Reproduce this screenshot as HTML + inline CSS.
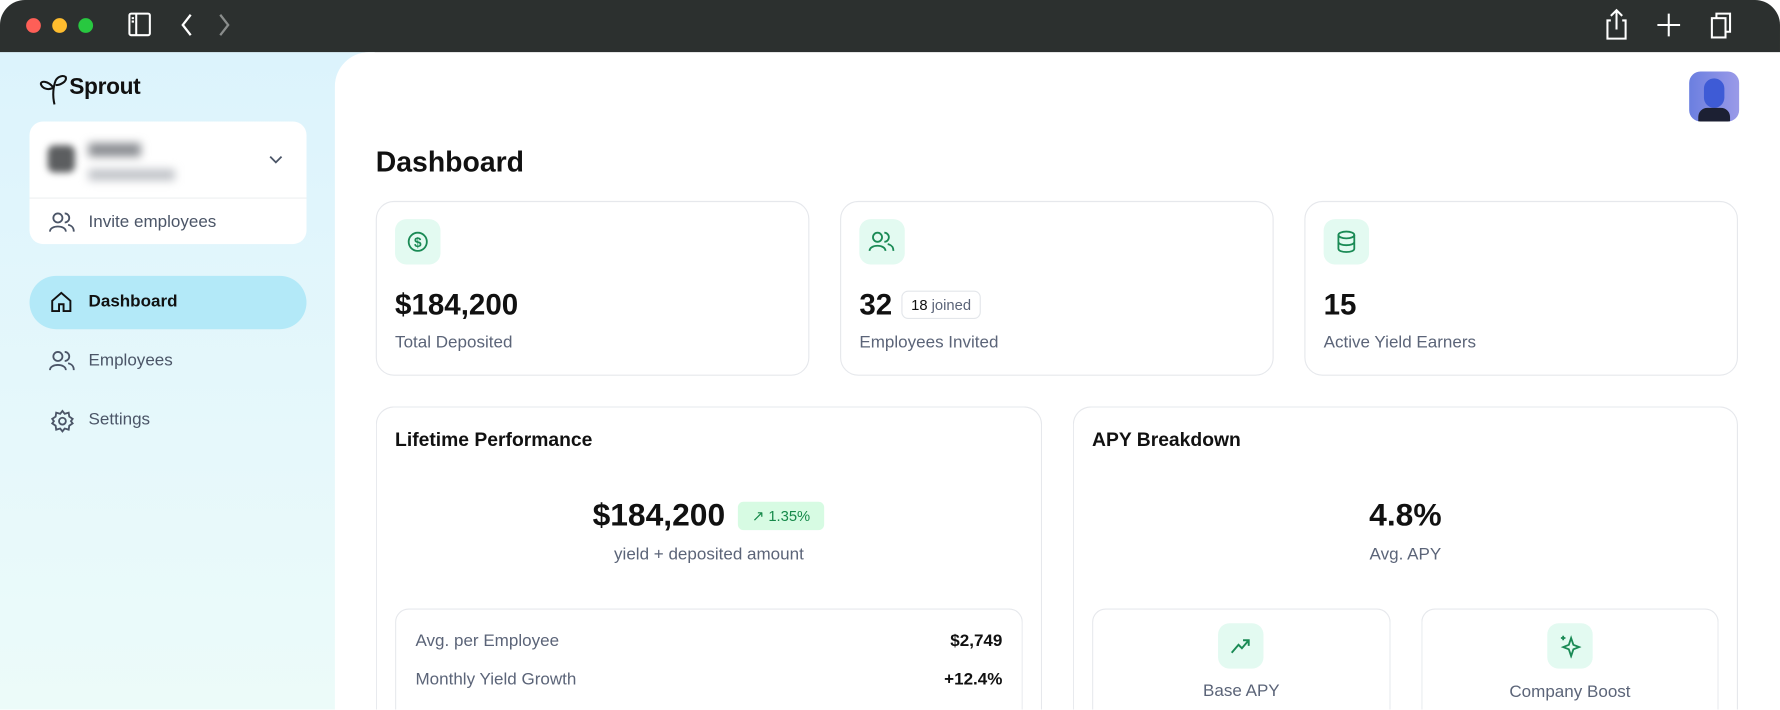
<!DOCTYPE html>
<html><head><meta charset="utf-8"><style>
*{margin:0;padding:0;box-sizing:border-box}
html,body{width:1780px;height:710px;overflow:hidden;background:#fff;font-family:"Liberation Sans",sans-serif}
#w{width:1568px;height:625px;overflow:hidden;transform:scale(1.13520);transform-origin:0 0;position:relative;background:#fff}
.a{position:absolute}
.top{left:0;top:0;width:1568px;height:46px;background:#2c302f;border-radius:22px 22px 0 0}
.dot{width:13px;height:13px;border-radius:50%;top:16px}
.side{left:0;top:46px;width:330px;height:579px;background:linear-gradient(180deg,#dcf3fc 0%,#e6f8fb 60%,#ecfbf9 100%)}
.main{left:295px;top:46px;width:1273px;height:579px;background:#fff;border-radius:30px 0 0 0}
.card{background:#fff;border:1px solid #e6e8ec;border-radius:16px}
.open{border-bottom:none;border-bottom-left-radius:0;border-bottom-right-radius:0}
.ib{width:40px;height:40px;border-radius:10px;background:#e3faf1;display:flex;align-items:center;justify-content:center}
.val{font-size:26px;font-weight:600;color:#111}
.lbl{font-size:15px;color:#5b6478}
.nav{font-size:15px;color:#4b5567}
</style></head><body><div id="w">
<div class="a top"></div>
<div class="a dot" style="left:23px;background:#fe5f57"></div>
<div class="a dot" style="left:46px;background:#febc2e"></div>
<div class="a dot" style="left:69px;background:#28c840"></div>
<svg class="a" style="left:112px;top:10px" width="22" height="24" fill="none" stroke="#fff" stroke-width="1.8"><rect x="2" y="2" width="18" height="19" rx="1.5"/><line x1="8" y1="2" x2="8" y2="21"/><line x1="4" y1="6" x2="6" y2="6"/><line x1="4" y1="9" x2="6" y2="9"/></svg>
<svg class="a" style="left:155px;top:10px" width="60" height="24" fill="none" stroke-width="2"><path d="M13 3 L6 12 L13 21" stroke="#fff"/><path d="M39 3 L46 12 L39 21" stroke="#8a8d8c"/></svg>
<svg class="a" style="left:1412px;top:6px" width="120" height="30" fill="none" stroke="#fff" stroke-width="1.8"><path d="M7 12 H4 V28 H20 V12 H17 M12 20 V3 M7 8 L12 3 L17 8"/><path d="M58 6 V26 M48 16 H68"/><rect x="96" y="10" width="12" height="17"/><path d="M100 10 V6 H112 V22 H108"/></svg>
<div class="a side"></div>
<div class="a main"></div>
<svg class="a" style="left:33px;top:64px" width="28" height="30" fill="none" stroke="#111" stroke-width="1.8"><path d="M15 28 C13 20 14 12 16 7 C18 3 23 2 25 4 C26 8 20 11 16 11 M14 13 C10 16 4 14 3 10 C3 7 9 7 14 13"/></svg>
<div class="a" style="left:61px;top:66px;font-size:20px;font-weight:700;color:#111;letter-spacing:-.3px">Sprout</div>
<div class="a" style="left:26px;top:107px;width:244px;height:108px;background:#fff;border-radius:12px"></div>
<div class="a" style="left:26px;top:174px;width:244px;height:1px;background:#eef0f2"></div>
<div class="a" style="left:42px;top:128px;width:24px;height:24px;border-radius:6px;background:#5c5e60;filter:blur(3px)"></div>
<div class="a" style="left:78px;top:126px;width:46px;height:12px;background:#8a8d92;filter:blur(4px)"></div>
<div class="a" style="left:78px;top:149px;width:76px;height:10px;background:#c0c3c8;filter:blur(4px)"></div>
<svg class="a" style="left:236px;top:136px" width="14" height="10" fill="none" stroke="#4b5567" stroke-width="1.6"><path d="M2 2 L7 7 L12 2"/></svg>
<svg class="a" style="left:43px;top:186px" width="24" height="20" fill="none" stroke="#4b5567" stroke-width="1.6"><circle cx="8" cy="6" r="4"/><path d="M1 18 C1 12 15 12 15 18"/><path d="M14 2 A4 4 0 0 1 14 10 M17 12 C21 13 22 15 22 18"/></svg>
<div class="a nav" style="left:78px;top:187px">Invite employees</div>
<div class="a" style="left:26px;top:243px;width:244px;height:47px;background:#b3e9f8;border-radius:24px"></div>
<svg class="a" style="left:44px;top:256px" width="20" height="20" fill="none" stroke="#111" stroke-width="1.7"><path d="M2 9 L10 2 L18 9 V18 H12 V12 H8 V18 H2 Z"/></svg>
<div class="a" style="left:78px;top:257px;font-size:15px;font-weight:600;color:#111">Dashboard</div>
<svg class="a" style="left:43px;top:308px" width="24" height="20" fill="none" stroke="#4b5567" stroke-width="1.6"><circle cx="8" cy="6" r="4"/><path d="M1 18 C1 12 15 12 15 18"/><path d="M14 2 A4 4 0 0 1 14 10 M17 12 C21 13 22 15 22 18"/></svg>
<div class="a nav" style="left:78px;top:309px">Employees</div>
<svg class="a" style="left:44px;top:360px" width="22" height="22" fill="none" stroke="#4b5567" stroke-width="1.6"><circle cx="11" cy="11" r="3"/><path d="M11 2 L13 4.5 L16.5 3.5 L17 7 L20 9 L18.5 11 L20 13 L17 15 L16.5 18.5 L13 17.5 L11 20 L9 17.5 L5.5 18.5 L5 15 L2 13 L3.5 11 L2 9 L5 7 L5.5 3.5 L9 4.5 Z"/></svg>
<div class="a nav" style="left:78px;top:361px">Settings</div>
<div class="a" style="left:1488px;top:63px;width:44px;height:44px;border-radius:10px;background:linear-gradient(90deg,#6b7fe0,#9a9ae8);overflow:hidden"><div style="position:absolute;left:13px;top:6px;width:18px;height:26px;border-radius:9px;background:#3e5bd6"></div><div style="position:absolute;left:8px;top:32px;width:28px;height:12px;background:#1c2033;border-radius:8px 8px 0 0"></div></div>
<div class="a" style="left:331px;top:129px;font-size:25px;font-weight:600;color:#111">Dashboard</div>

<div class="a card" style="left:331px;top:177px;width:382px;height:154px"></div>
<div class="a card" style="left:740px;top:177px;width:382px;height:154px"></div>
<div class="a card" style="left:1149px;top:177px;width:382px;height:154px"></div>
<div class="a ib" style="left:348px;top:193px"><svg width="20" height="20" fill="none" stroke="#1a8a55" stroke-width="1.6"><circle cx="10" cy="10" r="8"/><text x="10" y="14.5" font-size="12" text-anchor="middle" fill="#1a8a55" stroke="none" font-family="Liberation Sans" font-weight="700">$</text></svg></div>
<div class="a ib" style="left:757px;top:193px"><svg width="24" height="20" fill="none" stroke="#1a8a55" stroke-width="1.6"><circle cx="8" cy="6" r="4"/><path d="M1 18 C1 12 15 12 15 18"/><path d="M14 2 A4 4 0 0 1 14 10 M17 12 C21 13 22 15 22 18"/></svg></div>
<div class="a ib" style="left:1166px;top:193px"><svg width="20" height="22" fill="none" stroke="#1a8a55" stroke-width="1.6"><ellipse cx="10" cy="5" rx="7" ry="3"/><path d="M3 5 V17 C3 21 17 21 17 17 V5 M3 11 C3 15 17 15 17 11"/></svg></div>
<div class="a val" style="left:348px;top:253px">$184,200</div>
<div class="a val" style="left:757px;top:253px">32</div>
<div class="a val" style="left:1166px;top:253px">15</div>
<div class="a" style="left:794px;top:256px;width:70px;height:25px;border:1px solid #e3e6ea;border-radius:6px;font-size:13px;line-height:23px;text-align:center;color:#111">18 <span style="color:#5b6478">joined</span></div>
<div class="a lbl" style="left:348px;top:293px">Total Deposited</div>
<div class="a lbl" style="left:757px;top:293px">Employees Invited</div>
<div class="a lbl" style="left:1166px;top:293px">Active Yield Earners</div>

<div class="a card open" style="left:331px;top:358px;width:587px;height:267px"></div>
<div class="a card open" style="left:945px;top:358px;width:586px;height:267px"></div>
<div class="a" style="left:348px;top:378px;font-size:17px;font-weight:600;color:#111">Lifetime Performance</div>
<div class="a" style="left:962px;top:378px;font-size:17px;font-weight:600;color:#111">APY Breakdown</div>
<div class="a" style="left:522px;top:438px;font-size:28px;font-weight:600;color:#111">$184,200</div>
<div class="a" style="left:650px;top:442px;width:76px;height:25px;background:#d7fbe3;border-radius:5px;font-size:13px;line-height:25px;color:#16894a;text-align:center">&#8599; 1.35%</div>
<div class="a lbl" style="left:331px;width:587px;text-align:center;top:480px">yield + deposited amount</div>
<div class="a" style="left:945px;width:586px;text-align:center;top:438px;font-size:28px;font-weight:600;color:#111">4.8%</div>
<div class="a lbl" style="left:945px;width:586px;text-align:center;top:480px">Avg. APY</div>
<div class="a card open" style="left:348px;top:536px;width:553px;height:89px;border-radius:12px 12px 0 0"></div>
<div class="a lbl" style="left:366px;top:556px">Avg. per Employee</div>
<div class="a lbl" style="left:366px;top:590px">Monthly Yield Growth</div>
<div class="a" style="left:700px;width:183px;text-align:right;top:556px;font-size:15px;font-weight:600;color:#111">$2,749</div>
<div class="a" style="left:700px;width:183px;text-align:right;top:590px;font-size:15px;font-weight:600;color:#111">+12.4%</div>
<div class="a card open" style="left:962px;top:536px;width:263px;height:89px;border-radius:12px 12px 0 0"></div>
<div class="a card open" style="left:1252px;top:536px;width:262px;height:89px;border-radius:12px 12px 0 0"></div>
<div class="a ib" style="left:1073px;top:549px"><svg width="20" height="20" fill="none" stroke="#1a8a55" stroke-width="1.7"><path d="M2 16 L8 9 L11 12 L17 5 M12 5 H17 V10"/></svg></div>
<div class="a ib" style="left:1363px;top:549px"><svg width="20" height="22" fill="none" stroke="#1a8a55" stroke-width="1.6"><path d="M11 4 L13 10 L18 12 L13 14 L11 20 L9 14 L4 12 L9 10 Z"/><path d="M4 2 V6 M2 4 H6"/></svg></div>
<div class="a lbl" style="left:962px;width:263px;text-align:center;top:600px">Base APY</div>
<div class="a lbl" style="left:1252px;width:262px;text-align:center;top:601px">Company Boost</div>
</div></body></html>
